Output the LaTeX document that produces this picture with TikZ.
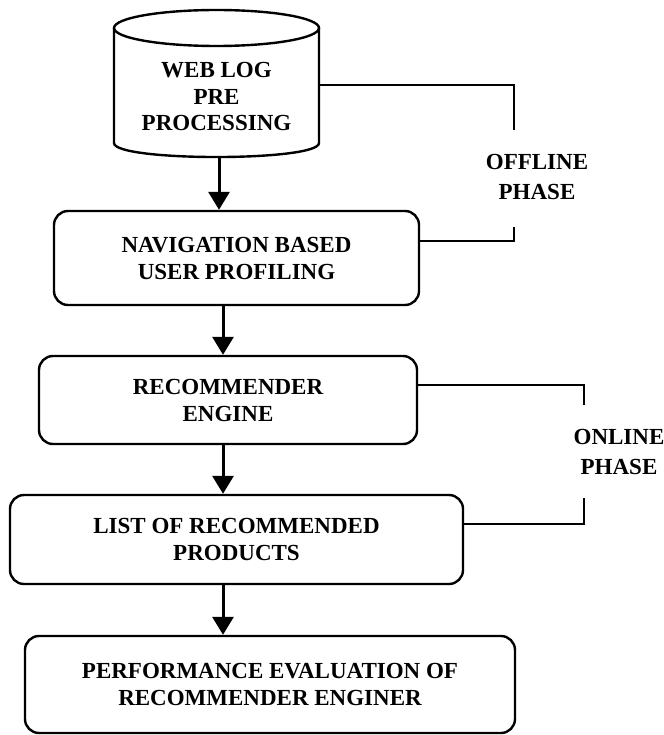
\documentclass[tikz,border=0pt]{standalone}
\usepackage{fontspec}
\setmainfont{Liberation Serif}
\usetikzlibrary{arrows.meta}
\begin{document}
\begin{tikzpicture}[x=1pt,y=-1pt,
  box/.style={draw, line width=2.4pt, rounded corners=14pt, align=center,
    font=\bfseries\fontsize{23}{27}\selectfont, inner sep=0pt},
  cyltxt/.style={align=center, inner sep=0pt, font=\bfseries\fontsize{23}{26.5}\selectfont},
  lbl/.style={align=center, inner sep=0pt, font=\bfseries\fontsize{23}{30}\selectfont},
  brk/.style={line width=2pt},
  cylline/.style={line width=2.4pt},
  arr/.style={line width=3pt, -{Triangle[width=21pt,length=18pt]}}]
\fill[white] (0,0) rectangle (663,735);
\useasboundingbox (0,0) rectangle (663,735);

% cylinder
\node[inner sep=0pt, minimum width=205pt, minimum height=147pt] (cyl) at (216.5,83.5) {};
\draw[cylline] (216.5,28) ellipse [x radius=102.5pt, y radius=18pt];
\draw[cylline] (114,28) -- (114,143) .. controls (114,161.7) and (319,161.7) .. (319,143) -- (319,28);
\node[cyltxt] (cyltext) at (216.5,96.5) {WEB LOG\\PRE\\PROCESSING};

% boxes
\node[box, minimum width=365pt, minimum height=94pt] (nav) at (236.5,258) {NAVIGATION BASED\\USER PROFILING};
\node[box, minimum width=378pt, minimum height=88pt] (rec) at (228,400) {RECOMMENDER\\ENGINE};
\node[box, minimum width=453pt, minimum height=89pt] (list) at (236.5,539.5) {LIST OF RECOMMENDED\\PRODUCTS};
\node[box, minimum width=490pt, minimum height=97pt] (perf) at (270,684.5) {PERFORMANCE EVALUATION OF\\RECOMMENDER ENGINER};

% arrows
\coordinate (ax1) at (219,0);
\coordinate (ax) at (223,0);
\draw[arr] (cyl.south -| ax1) -- (nav.north -| ax1);
\draw[arr] (nav.south -| ax) -- (rec.north -| ax);
\draw[arr] (rec.south -| ax) -- (list.north -| ax);
\draw[arr] (list.south -| ax) -- (perf.north -| ax);

% offline bracket
\coordinate (off0) at (514,85);
\coordinate (off1) at (514,130);
\coordinate (off2) at (514,227);
\coordinate (off3) at (514,241);
\draw[brk] (cyl.east |- off0) -- (off0) -- (off1);
\draw[brk] (nav.east |- off3) -- (off3) -- (off2);
\node[lbl] (offl) at (537,177) {OFFLINE\\PHASE};

% online bracket
\coordinate (on0) at (584,385);
\coordinate (on1) at (584,405);
\coordinate (on2) at (584,498);
\coordinate (on3) at (584,524);
\draw[brk] (rec.east |- on0) -- (on0) -- (on1);
\draw[brk] (list.east |- on3) -- (on3) -- (on2);
\node[lbl] (onl) at (619,452) {ONLINE\\PHASE};
\end{tikzpicture}
\end{document}
